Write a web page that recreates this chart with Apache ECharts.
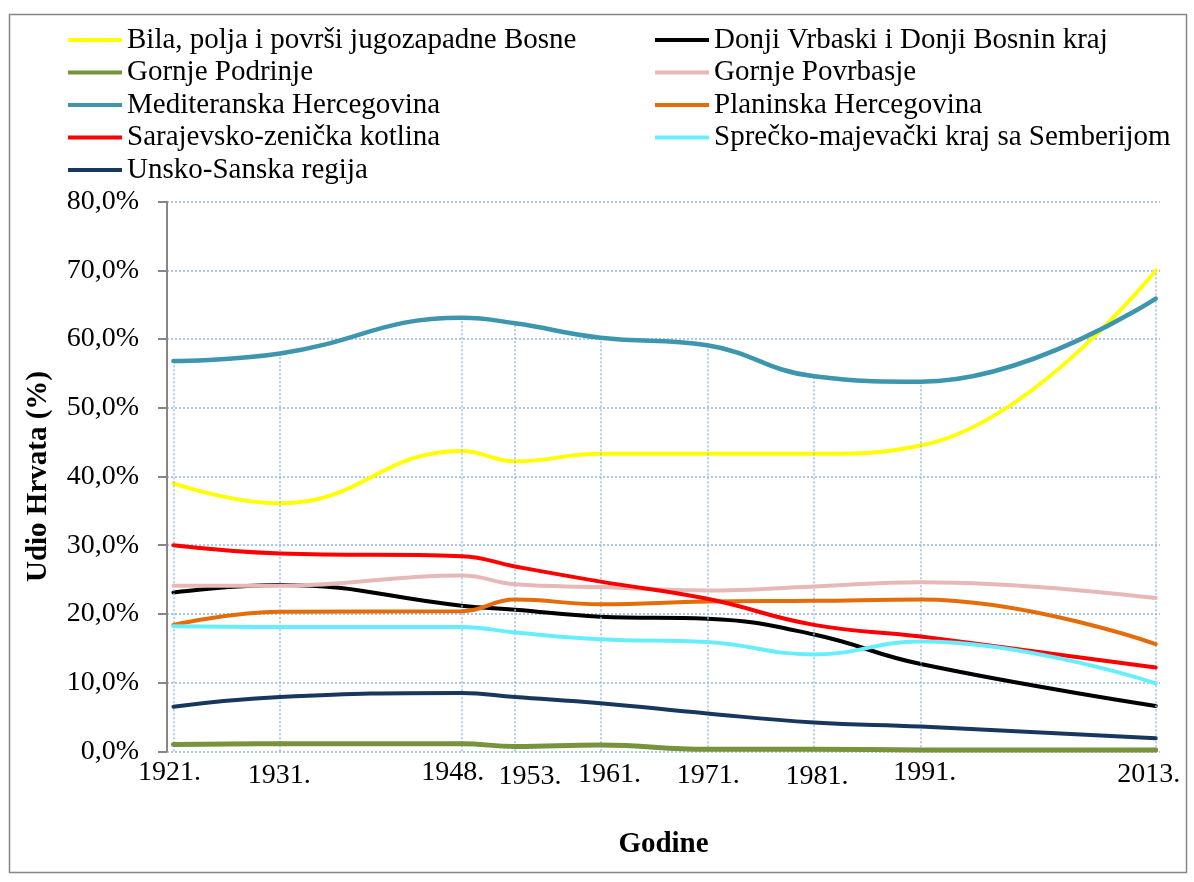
<!DOCTYPE html>
<html><head><meta charset="utf-8">
<script src="https://cdn.jsdelivr.net/npm/echarts@6/dist/echarts.min.js"></script>
<style>html,body{margin:0;padding:0;background:#fff}#c{width:1194px;height:882px}</style>
</head><body><div id="c"></div>
<script>
// ---- data ----
const years = [1921, 1931, 1948, 1953, 1961, 1971, 1981, 1991, 2013];
const yTickValues = [0, 10, 20, 30, 40, 50, 60, 70, 80];
const names = [
  'Bila, polja i površi jugozapadne Bosne',
  'Donji Vrbaski i Donji Bosnin kraj',
  'Gornje Podrinje',
  'Gornje Povrbasje',
  'Mediteranska Hercegovina',
  'Planinska Hercegovina',
  'Sarajevsko-zenička kotlina',
  'Sprečko-majevački kraj sa Semberijom',
  'Unsko-Sanska regija'
];
const bila         = [39.0, 36.1, 43.7, 42.2, 43.3, 43.3, 43.3, 44.5, 70.0];
const donji        = [23.1, 24.2, 21.2, 20.6, 19.6, 19.3, 17.0, 12.7, 6.6];
const podrinje     = [1.0, 1.1, 1.1, 0.7, 0.9, 0.3, 0.3, 0.2, 0.2];
const povrbasje    = [24.1, 24.1, 25.6, 24.3, 23.9, 23.4, 24.0, 24.6, 22.3];
const mediteranska = [56.8, 57.9, 63.1, 62.3, 60.2, 59.1, 54.6, 53.8, 65.9];
const planinska    = [18.4, 20.3, 20.4, 22.1, 21.4, 21.8, 21.9, 22.1, 15.6];
const sarajevsko   = [30.0, 28.8, 28.4, 26.9, 24.7, 22.2, 18.4, 16.7, 12.2];
const sprecko      = [18.2, 18.1, 18.1, 17.3, 16.3, 15.9, 14.1, 16.0, 9.9];
const unsko        = [6.5, 7.9, 8.5, 7.9, 7.0, 5.5, 4.2, 3.6, 1.9];

// ---- styles (kept apart from data) ----
const allSeries = [bila, donji, podrinje, povrbasje, mediteranska, planinska, sarajevsko, sprecko, unsko];
const colors = ['#FFFF00', '#000000', '#77933C', '#E6B9B8', '#3D96AE', '#E46C0A', '#FF0000', '#66EEFF', '#17375E'];
const widths = [4, 4, 5, 4, 4.5, 4, 4, 4, 4];
const labelShift = { // [dx, dy] in px for the tick labels, as in the original
  1921: [-4, 0], 1931: [-1, 3.5], 1948: [-9, -0.5], 1953: [15, 4.5], 1961: [9, 2],
  1971: [1, 3], 1981: [3, 4], 1991: [4, -0.5], 2013: [-7, 2]
};
const FONT = '"Liberation Serif", "Times New Roman", serif';

const rich = {};
years.forEach(y => {
  const [dx, dy] = labelShift[y];
  rich['t' + y] = {
    fontSize: 28, fontFamily: FONT, color: '#000',
    padding: [Math.max(dy, 0) + 1, dx < 0 ? -2 * dx : 0, 0, dx > 0 ? 2 * dx : 0]
  };
});

const chart = echarts.init(document.getElementById('c'), null, { renderer: 'canvas' });

const series = names.map((n, k) => ({
  name: n,
  type: 'line',
  smooth: 0.45,
  symbol: 'none',
  z: 3 + k,
  data: years.map((y, i) => [y, allSeries[k][i]]),
  lineStyle: { color: colors[k], width: widths[k], cap: 'round' },
  itemStyle: { color: colors[k] }
}));

// drop lines: from the highest series value down to 0 at each year
series.unshift({
  name: 'drop',
  type: 'line',
  data: [],
  z: 1,
  silent: true,
  markLine: {
    silent: true,
    symbol: ['none', 'none'],
    label: { show: false },
    emphasis: { disabled: true },
    animation: false,
    lineStyle: { type: [2, 2], color: '#9DBCE6', width: 1.5 },
    data: years.map((y, i) => [
      { coord: [y, 0] },
      { coord: [y, Math.max(...allSeries.map(a => a[i]))] }
    ])
  }
});

const legendCommon = {
  orient: 'vertical',
  icon: 'rect',
  itemWidth: 54,
  itemHeight: 4,
  itemGap: 2.5,
  padding: 0,
  selectedMode: false,
  textStyle: { fontSize: 29, fontFamily: FONT, color: '#000', lineHeight: 30 }
};

chart.setOption({
  animation: false,
  backgroundColor: '#fff',
  textStyle: { fontFamily: FONT },
  graphic: [{
    type: 'rect', silent: true, z: -10,
    shape: { x: 9.5, y: 14.5, width: 1177, height: 858 },
    style: { fill: 'none', stroke: '#868686', lineWidth: 1.5 }
  }],
  legend: [
    Object.assign({ left: 68, top: 25, data: [names[0], names[2], names[4], names[6], names[8]] }, legendCommon),
    Object.assign({ left: 655, top: 25, data: [names[1], names[3], names[5], names[7]] }, legendCommon)
  ],
  grid: { left: 167, right: 34, top: 201.7, bottom: 130.7, containLabel: false },
  xAxis: {
    type: 'value',
    min: 1920.4,
    max: 2013.4,
    name: 'Godine',
    nameLocation: 'middle',
    nameGap: 79,
    nameTextStyle: { fontSize: 29, fontWeight: 'bold', fontFamily: FONT, color: '#000' },
    axisLine: { show: false },
    axisTick: { show: false },
    splitLine: { show: false },
    axisLabel: {
      customValues: years,
      margin: 6,
      formatter: v => '{t' + v + '|' + v + '.}',
      rich: rich,
      fontSize: 28, fontFamily: FONT, color: '#000'
    }
  },
  yAxis: {
    type: 'value',
    min: 0,
    max: 80,
    interval: 10,
    name: 'Udio Hrvata (%)',
    nameLocation: 'middle',
    nameGap: 114,
    nameTextStyle: { fontSize: 29, fontWeight: 'bold', fontFamily: FONT, color: '#000' },
    axisLine: { show: true, lineStyle: { color: '#868686', width: 2 } },
    axisTick: { show: true, length: 9, inside: false, lineStyle: { color: '#868686', width: 2 } },
    axisLabel: {
      margin: 28,
      fontSize: 28, fontFamily: FONT, color: '#000',
      formatter: v => v.toFixed(1).replace('.', ',') + '%'
    },
    splitLine: { show: true, lineStyle: { type: [2, 2], color: '#8EB4E3', width: 1.5 } }
  },
  series: series
});
</script></body></html>
